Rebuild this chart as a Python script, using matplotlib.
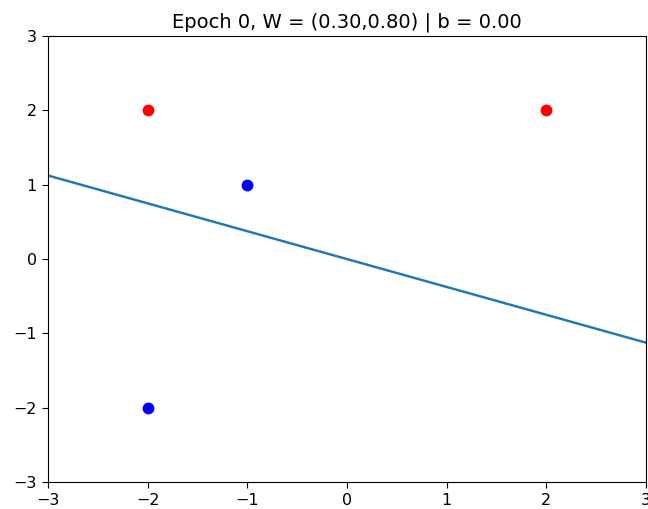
import numpy as np
from matplotlib import pyplot as plt

# data points and perceptron weights
red_x = [-2, 2]
red_y = [2, 2]
blue_x = [-1, -2]
blue_y = [1, -2]
W = [0.30, 0.80]
b = 0.00
epoch = 0

fig = plt.figure(figsize=(6.48, 5.09), dpi=100)
ax = fig.add_axes([0.074, 0.053, 0.923, 0.876])

ax.plot(red_x, red_y, 'ro', markersize=7.5)
ax.plot(blue_x, blue_y, 'bo', markersize=7.5)

xs = np.array([-3, 3])
ys = -(W[0] * xs + b) / W[1]
ax.plot(xs, ys, linewidth=1.75)

ax.set_xlim(-3, 3)
ax.set_ylim(-3, 3)
ax.tick_params(labelsize=11.5, length=4.5)
ax.set_title('Epoch %d, W = (%.2f,%.2f) | b = %.2f' % (epoch, W[0], W[1], b),
             fontsize=14)

fig.savefig('out.png', dpi=100)
